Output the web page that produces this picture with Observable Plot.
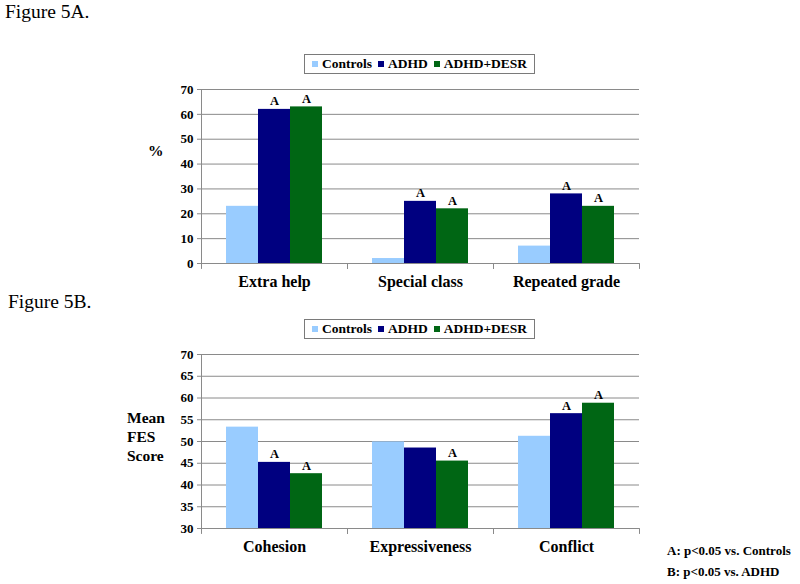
<!DOCTYPE html>
<html><head><meta charset="utf-8">
<script src="https://cdn.jsdelivr.net/npm/d3@7"></script>
<script src="https://cdn.jsdelivr.net/npm/@observablehq/plot@0.6"></script>
<style>
body{margin:0;background:#fff;}
#root{position:relative;width:800px;height:584px;overflow:hidden;font-family:"Liberation Serif","Times New Roman",serif;color:#000;}
.abs{position:absolute;white-space:nowrap;}
.fig{font-size:19.5px;font-weight:normal;line-height:1;}
.ylab{font-size:15.5px;font-weight:bold;line-height:19px;}
.legend{box-sizing:border-box;width:231px;height:20px;border:1px solid #7a7a7a;display:flex;align-items:center;justify-content:center;font-size:13.5px;font-weight:bold;font-family:"Liberation Serif","Times New Roman",serif;}
.legend .sw{display:inline-block;width:6px;height:6px;margin-right:4px;}
.legend .it{display:inline-flex;align-items:center;margin:0 3px;}
.foot{font-size:13px;font-weight:bold;line-height:20.5px;}
</style></head><body><div id="root"></div>
<script>
const series = ["Controls", "ADHD", "ADHD+DESR"];
const colors = ["#99ccff", "#000080", "#006614"];

const categoriesA = ["Extra help", "Special class", "Repeated grade"];
const controlsA = [23, 2, 7];
const adhdA = [62, 25, 28];
const desrA = [63, 22, 23];
const yTicksA = [0, 10, 20, 30, 40, 50, 60, 70];
const sigA = [["Extra help", "ADHD"], ["Extra help", "ADHD+DESR"], ["Special class", "ADHD"], ["Special class", "ADHD+DESR"], ["Repeated grade", "ADHD"], ["Repeated grade", "ADHD+DESR"]];

const categoriesB = ["Cohesion", "Expressiveness", "Conflict"];
const controlsB = [53.3, 49.9, 51.2];
const adhdB = [45.2, 48.5, 56.4];
const desrB = [42.6, 45.5, 58.8];
const yTicksB = [30, 35, 40, 45, 50, 55, 60, 65, 70];
const sigB = [["Cohesion", "ADHD"], ["Cohesion", "ADHD+DESR"], ["Expressiveness", "ADHD+DESR"], ["Conflict", "ADHD"], ["Conflict", "ADHD+DESR"]];

const titles = ["Figure 5A.", "Figure 5B."];
const yLabels = ["%", "Mean\nFES\nScore"];
const footnotes = ["A: p<0.05 vs. Controls", "B: p<0.05 vs. ADHD"];

const grey = "#8a8a8a";
const edge = {draw(ctx, l) { ctx.moveTo(0, 0); ctx.lineTo(0, l); }};

function makeChart(cats, vals, ticks, sig) {
  const rows = cats.flatMap((c, i) => series.map((s, j) => ({category: c, series: s, value: vals[j][i]})));
  const labels = sig.map(([c, s]) => ({...rows.find(r => r.category === c && r.series === s), text: "A"}));
  const y0 = ticks[0], y1 = ticks[ticks.length - 1];
  return Plot.plot({
    width: 800, height: 213,
    marginLeft: 200, marginRight: 160, marginTop: 9, marginBottom: 30,
    style: {fontFamily: '"Liberation Serif", "Times New Roman", serif', fontWeight: "bold", fontSize: "13px", color: "#000", background: "transparent", overflow: "visible"},
    fx: {domain: cats, padding: 0, label: null},
    x: {domain: series, paddingInner: 0, paddingOuter: 0.77, axis: null},
    y: {domain: [y0, y1], label: null},
    color: {domain: series, range: colors},
    marks: [
      Plot.ruleY(ticks, {stroke: grey, strokeWidth: 1}),
      Plot.barY(rows, {fx: "category", x: "series", y1: y0, y2: "value", fill: "series"}),
      Plot.vector(cats, {fx: d => d, frameAnchor: "bottom-left", length: 5, anchor: "start", shape: edge, stroke: grey, strokeWidth: 1}),
      Plot.vector(cats, {fx: d => d, frameAnchor: "bottom-right", length: 5, anchor: "start", shape: edge, stroke: grey, strokeWidth: 1}),
      Plot.frame({anchor: "left", facetAnchor: "left", stroke: grey, strokeWidth: 1}),
      Plot.axisY({ticks, tickSize: 4, tickPadding: 4, stroke: grey, fill: "#000", label: null, fontSize: 13}),
      Plot.text(labels, {fx: "category", x: "series", y: "value", text: "text", dy: -4, lineAnchor: "bottom", fontSize: 12.5}),
      Plot.axisFx({anchor: "bottom", fontSize: 16, tickSize: 0, tickPadding: 12, label: null})
    ]
  });
}

function legend(top) {
  const d = document.createElement("div");
  d.className = "abs legend";
  d.style.left = "304px"; d.style.top = top + "px";
  series.forEach((s, i) => {
    const it = document.createElement("span"); it.className = "it";
    const sw = document.createElement("span"); sw.className = "sw"; sw.style.background = colors[i];
    it.appendChild(sw); it.appendChild(document.createTextNode(s));
    d.appendChild(it);
  });
  return d;
}

function place(el, left, top) {
  const w = document.createElement("div");
  w.className = "abs"; w.style.left = left + "px"; w.style.top = top + "px";
  w.appendChild(el);
  return w;
}
function text(cls, str, left, top, html) {
  const d = document.createElement("div");
  d.className = "abs " + cls; d.style.left = left + "px"; d.style.top = top + "px";
  if (html) d.innerHTML = str.split("\n").join("<br>"); else d.textContent = str;
  return d;
}

const root = document.getElementById("root");
root.appendChild(text("fig", titles[0], 5, 2));
root.appendChild(legend(54));
root.appendChild(place(makeChart(categoriesA, [controlsA, adhdA, desrA], yTicksA, sigA), 0, 80));
root.appendChild(text("ylab", yLabels[0], 148, 141));
root.appendChild(text("fig", titles[1], 8, 292));
root.appendChild(legend(319));
root.appendChild(place(makeChart(categoriesB, [controlsB, adhdB, desrB], yTicksB, sigB), 0, 345));
root.appendChild(text("ylab", yLabels[1], 127, 408, true));
root.appendChild(text("foot", footnotes.join("\n"), 667, 541, true));
</script></body></html>
